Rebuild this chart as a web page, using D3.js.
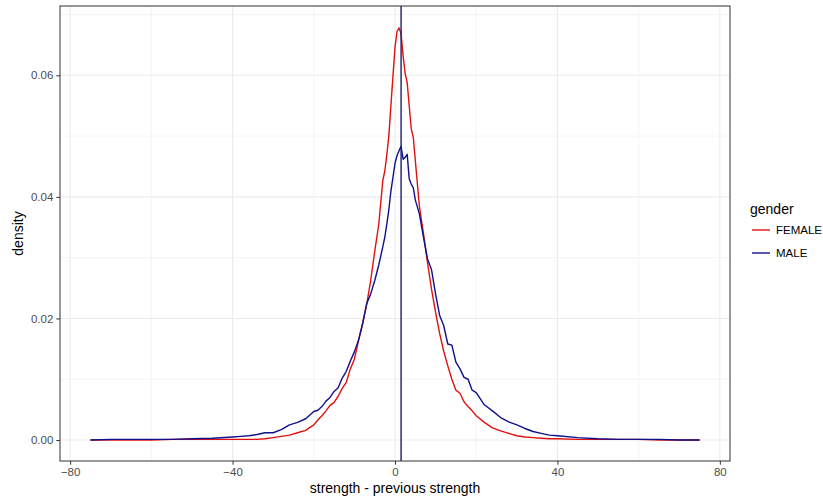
<!DOCTYPE html>
<html>
<head>
<meta charset="utf-8">
<script src="https://d3js.org/d3.v7.min.js"></script>
<style>
  body { margin: 0; background: #fff; }
  svg text { font-family: "Liberation Sans", Arial, Helvetica, sans-serif; }
</style>
</head>
<body>
<div id="chart"></div>
<script>
// --- Data ---
var diffs = [-75, -70, -65, -60, -55, -50, -45, -40, -38, -36, -34, -32, -30, -28, -26, -24, -22,
  -20, -19, -18, -17, -16, -15, -14, -13, -12, -11, -10, -9, -8, -7, -6, -5, -4, -3,
  -2.5, -2, -1.5, -1, -0.5, 0, 0.5, 1, 1.5, 2, 2.5, 3, 3.5, 4, 4.5, 5,
  6, 7, 8, 9, 10, 11, 12, 13, 14, 15, 16, 17, 18, 19, 20,
  22, 24, 26, 28, 30, 32, 34, 36, 38, 40, 45, 50, 55, 60, 65, 70, 75];

var femaleDensity = [0, 0, 0, 0, 0.0001, 0.0001, 0.0001, 0.0001, 0.0001, 0.0001, 0.0001, 0.0002, 0.0004, 0.0006, 0.0008, 0.0012, 0.0016,
  0.0025, 0.0033, 0.0040, 0.0048, 0.0057, 0.0062, 0.0072, 0.0085, 0.0095, 0.0117, 0.0133, 0.0163, 0.0192, 0.0222, 0.0262, 0.0310, 0.0355, 0.0427,
  0.0443, 0.0470, 0.0502, 0.0551, 0.0599, 0.0646, 0.0672, 0.0678, 0.0668, 0.0632, 0.0603, 0.0588, 0.0550, 0.0512, 0.0498, 0.0460,
  0.0385, 0.0340, 0.0292, 0.0248, 0.0210, 0.0175, 0.0146, 0.0122, 0.0100, 0.0082, 0.0077, 0.0063, 0.0055, 0.0048, 0.0040,
  0.0029, 0.0020, 0.0015, 0.0011, 0.0007, 0.0005, 0.0004, 0.0003, 0.0002, 0.0002, 0.0001, 0.0001, 0.0001, 0.0001, 0, 0, 0];

var maleDensity = [0, 0.0001, 0.0001, 0.0001, 0.0001, 0.0002, 0.0003, 0.0005, 0.0006, 0.0007, 0.0009, 0.0012, 0.0012, 0.0017, 0.0025, 0.0029, 0.0035,
  0.0047, 0.0049, 0.0055, 0.0064, 0.0070, 0.0080, 0.0086, 0.0102, 0.0113, 0.0130, 0.0145, 0.0164, 0.0190, 0.0224, 0.0240, 0.0262, 0.0288, 0.0318,
  0.0334, 0.0356, 0.0380, 0.0410, 0.0432, 0.0455, 0.0468, 0.0476, 0.0483, 0.0462, 0.0465, 0.0470, 0.0430, 0.0421, 0.0415, 0.0395,
  0.0372, 0.0334, 0.0298, 0.0280, 0.0240, 0.0205, 0.0188, 0.0158, 0.0156, 0.0128, 0.0117, 0.0103, 0.0100, 0.0082, 0.0078,
  0.0058, 0.0048, 0.0037, 0.0030, 0.0025, 0.0019, 0.0014, 0.0011, 0.0008, 0.0007, 0.0004, 0.0002, 0.0001, 0.0001, 0.0001, 0, 0];

var genders = ['FEMALE', 'MALE'];
var genderColors = ['#e01010', '#10108c'];
var meanDiff = 1.5;

var xTicks = [-80, -40, 0, 40, 80];
var xMinor = [-60, -20, 20, 60];
var yTicks = [0, 0.02, 0.04, 0.06];
var yMinor = [0.01, 0.03, 0.05, 0.07];

// --- Layout ---
var width = 823, height = 497;
var panel = { left: 60, right: 730, top: 6, bottom: 461 };

var svg = d3.select('#chart').append('svg')
  .attr('width', width)
  .attr('height', height);

var x = d3.scaleLinear().domain([-82.5, 82.5]).range([panel.left, panel.right]);
var y = d3.scaleLinear().domain([-0.00345, 0.0714]).range([panel.bottom, panel.top]);

// grid
var grid = svg.append('g');
grid.selectAll('.xminor').data(xMinor).join('line')
  .attr('x1', function(d) { return x(d); }).attr('x2', function(d) { return x(d); })
  .attr('y1', panel.top).attr('y2', panel.bottom)
  .attr('stroke', '#ebebeb').attr('stroke-width', 0.55);
grid.selectAll('.yminor').data(yMinor).join('line')
  .attr('y1', function(d) { return y(d); }).attr('y2', function(d) { return y(d); })
  .attr('x1', panel.left).attr('x2', panel.right)
  .attr('stroke', '#ebebeb').attr('stroke-width', 0.55);
grid.selectAll('.xmajor').data(xTicks).join('line')
  .attr('x1', function(d) { return x(d); }).attr('x2', function(d) { return x(d); })
  .attr('y1', panel.top).attr('y2', panel.bottom)
  .attr('stroke', '#ebebeb').attr('stroke-width', 1.1);
grid.selectAll('.ymajor').data(yTicks).join('line')
  .attr('y1', function(d) { return y(d); }).attr('y2', function(d) { return y(d); })
  .attr('x1', panel.left).attr('x2', panel.right)
  .attr('stroke', '#ebebeb').attr('stroke-width', 1.1);

// lines
var series = [femaleDensity, maleDensity];
var line = d3.line()
  .x(function(d, i) { return x(diffs[i]); })
  .y(function(d) { return y(d); });

svg.append('g').selectAll('path')
  .data(series)
  .join('path')
  .attr('d', line)
  .attr('fill', 'none')
  .attr('stroke', function(d, i) { return genderColors[i]; })
  .attr('stroke-width', 1.4)
  .attr('stroke-linejoin', 'round');

// mean line
svg.append('line')
  .attr('x1', x(meanDiff)).attr('x2', x(meanDiff))
  .attr('y1', panel.top).attr('y2', panel.bottom)
  .attr('stroke', '#1c1c6e').attr('stroke-width', 1.4);

// panel border
svg.append('rect')
  .attr('x', panel.left).attr('y', panel.top)
  .attr('width', panel.right - panel.left).attr('height', panel.bottom - panel.top)
  .attr('fill', 'none').attr('stroke', '#333').attr('stroke-width', 1);

// axes
var xAxis = d3.axisBottom(x).tickValues(xTicks).tickSize(3.7).tickPadding(3).tickFormat(d3.format('d'));
var gx = svg.append('g').attr('transform', 'translate(0,' + panel.bottom + ')').call(xAxis);
gx.select('.domain').remove();
gx.selectAll('line').attr('stroke', '#333');
gx.selectAll('text').attr('fill', '#4d4d4d').style('font-size', '11.5px');

var yAxis = d3.axisLeft(y).tickValues(yTicks).tickSize(3.7).tickPadding(3).tickFormat(d3.format('.2f'));
var gy = svg.append('g').attr('transform', 'translate(' + panel.left + ',0)').call(yAxis);
gy.select('.domain').remove();
gy.selectAll('line').attr('stroke', '#333');
gy.selectAll('text').attr('fill', '#4d4d4d').style('font-size', '11.5px');

// axis titles
svg.append('text')
  .attr('x', (panel.left + panel.right) / 2).attr('y', 493)
  .attr('text-anchor', 'middle').style('font-size', '14px')
  .text('strength - previous strength');
svg.append('text')
  .attr('transform', 'translate(23,' + ((panel.top + panel.bottom) / 2) + ') rotate(-90)')
  .attr('text-anchor', 'middle').style('font-size', '14px')
  .text('density');

// legend
var legend = svg.append('g').attr('transform', 'translate(750,0)');
legend.append('text').attr('x', 0).attr('y', 214).style('font-size', '14px').text('gender');
var item = legend.selectAll('.item').data(genders).join('g')
  .attr('transform', function(d, i) { return 'translate(0,' + (230 + i * 23) + ')'; });
item.append('line')
  .attr('x1', 2).attr('x2', 20).attr('y1', 0).attr('y2', 0)
  .attr('stroke', function(d, i) { return genderColors[i]; })
  .attr('stroke-width', 1.4);
item.append('text')
  .attr('x', 26).attr('y', 4).style('font-size', '11.5px')
  .text(function(d) { return d; });
</script>
</body>
</html>
